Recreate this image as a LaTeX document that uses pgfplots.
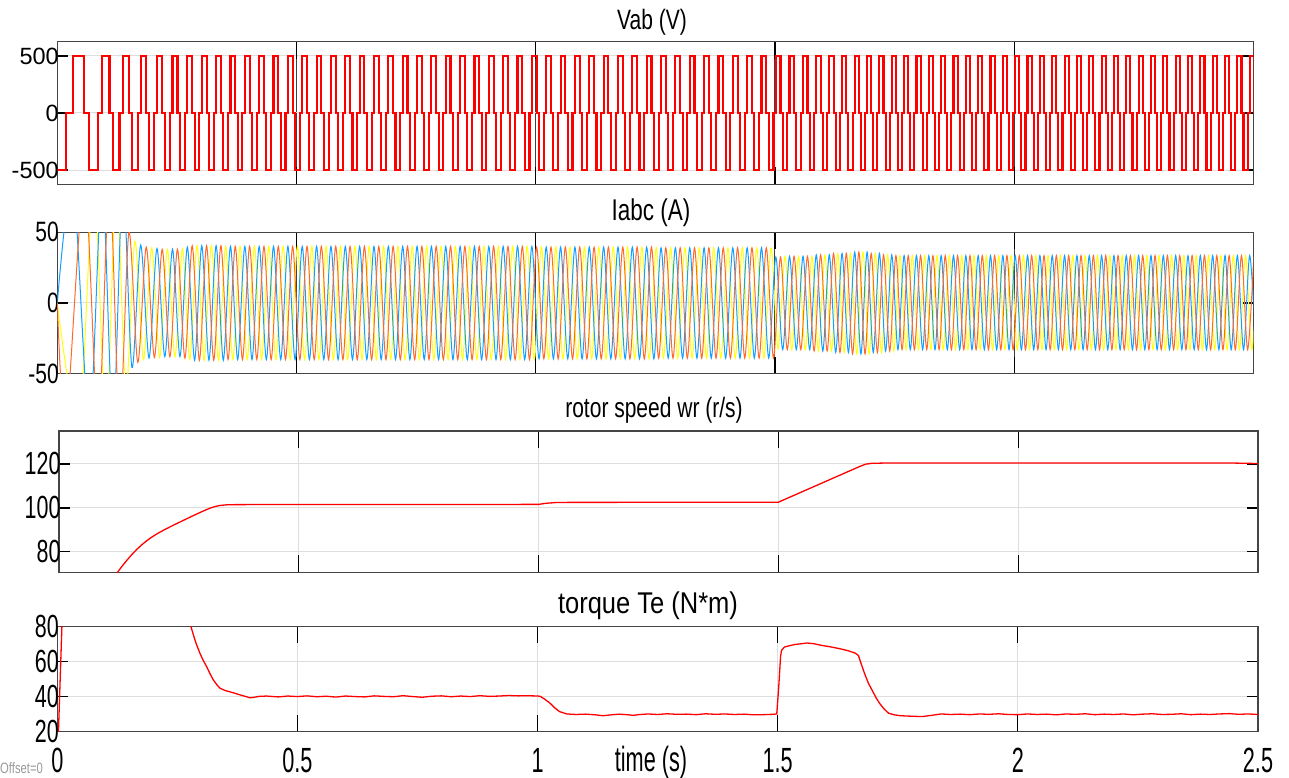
\documentclass[border=0pt]{standalone}
\usepackage{fontspec}
\setmainfont{Liberation Sans}
\newfontfamily\fA{Liberation Sans}
\newfontfamily\fB[FakeStretch=0.75]{Liberation Sans}
\newfontfamily\fE[FakeStretch=0.85]{Liberation Sans}
\newfontfamily\fC[FakeStretch=0.67]{Liberation Sans}
\newfontfamily\fD[FakeStretch=0.62]{Liberation Sans}
\usepackage{pgfplots}
\pgfplotsset{compat=1.18}
\definecolor{syel}{rgb}{1,1,0.067}
\definecolor{sblu}{rgb}{0.0745,0.6235,1}
\definecolor{sora}{rgb}{1,0.4118,0.1608}
\definecolor{axc}{rgb}{0.27,0.27,0.27}
\pgfplotsset{scope/.style={scale only axis, anchor=south west,
  xmin=0, xmax=2.5, xtick={0,0.5,1,1.5,2,2.5}, xticklabels={},
  grid=major, major grid style={line width=1pt, black!13},
  axis line style={axc, line width=1.4pt},
  tick style={black, line width=1.2pt}, tick align=inside,
  /pgf/number format/assume math mode=true,
  xtick style={/pgfplots/major tick length=17pt},
  ytick style={/pgfplots/major tick length=11pt},
  yticklabel style={xshift=5pt}}}
\begin{document}
\begin{tikzpicture}[x=1pt,y=1pt]
\useasboundingbox (0,0) rectangle (1289,778);
% ---------------- Vab ----------------
\begin{axis}[scope, at={(57.3pt,593.7pt)}, width=1196pt, height=142.6pt,
  ymin=-625, ymax=625, ytick={-500,0,500}, yticklabels={-500,0,500},
  major x grid style={line width=1pt, black!75},
  yticklabel style={font=\fA\fontsize{23.5}{23.5}\selectfont}]
\addplot[const plot, red, line width=2.1pt] coordinates {
(0,-500)(0.0181,0)(0.0327,500)(0.0566,0)(0.0669,-500)(0.0853,0)(0.0936,500)(0.1091,0)(0.1164,-500)(0.1301,0)(0.1368,500)(0.1497,0)(0.1560,-500)(0.1683,0)(0.1743,500)(0.1860,0)(0.1917,-500)(0.2029,0)(0.2084,500)(0.2193,0)(0.2247,-500)(0.2354,0)(0.2408,500)(0.2512,0)(0.2564,-500)(0.2668,0)(0.2719,500)(0.282,0)(0.287,-500)(0.297,0)
(0.302,500)(0.312,0)(0.317,-500)(0.327,0)(0.332,500)(0.342,0)(0.347,-500)(0.357,0)(0.362,500)(0.372,0)(0.377,-500)(0.387,0)(0.392,500)(0.402,0)(0.407,-500)(0.417,0)
(0.422,500)(0.432,0)(0.437,-500)(0.447,0)(0.452,500)(0.462,0)(0.467,-500)(0.477,0)(0.482,500)(0.492,0)(0.497,-500)(0.507,0)(0.512,500)(0.522,0)(0.527,-500)(0.537,0)
(0.542,500)(0.552,0)(0.557,-500)(0.567,0)(0.572,500)(0.582,0)(0.587,-500)(0.597,0)(0.602,500)(0.612,0)(0.617,-500)(0.627,0)(0.632,500)(0.642,0)(0.647,-500)(0.657,0)
(0.662,500)(0.672,0)(0.677,-500)(0.687,0)(0.692,500)(0.702,0)(0.707,-500)(0.717,0)(0.722,500)(0.732,0)(0.737,-500)(0.747,0)(0.752,500)(0.762,0)(0.767,-500)(0.777,0)
(0.782,500)(0.792,0)(0.797,-500)(0.807,0)(0.812,500)(0.822,0)(0.827,-500)(0.837,0)(0.842,500)(0.852,0)(0.857,-500)(0.867,0)(0.872,500)(0.882,0)(0.887,-500)(0.897,0)
(0.902,500)(0.912,0)(0.917,-500)(0.927,0)(0.932,500)(0.942,0)(0.947,-500)(0.957,0)(0.962,500)(0.972,0)(0.977,-500)(0.987,0)(0.992,500)(1.002,0)(1.007,-500)(1.017,0)
(1.022,500)(1.032,0)(1.037,-500)(1.047,0)(1.052,500)(1.062,0)(1.067,-500)(1.077,0)(1.082,500)(1.092,0)(1.097,-500)(1.107,0)(1.112,500)(1.122,0)(1.127,-500)(1.137,0)
(1.142,500)(1.152,0)(1.157,-500)(1.167,0)(1.172,500)(1.182,0)(1.187,-500)(1.197,0)(1.202,500)(1.212,0)(1.217,-500)(1.227,0)(1.232,500)(1.242,0)(1.247,-500)(1.257,0)
(1.262,500)(1.272,0)(1.277,-500)(1.287,0)(1.292,500)(1.302,0)(1.307,-500)(1.317,0)(1.322,500)(1.332,0)(1.337,-500)(1.347,0)(1.352,500)(1.362,0)(1.367,-500)(1.377,0)
(1.382,500)(1.392,0)(1.397,-500)(1.407,0)(1.412,500)(1.422,0)(1.427,-500)(1.437,0)(1.442,500)(1.452,0)(1.457,-500)(1.467,0)(1.472,500)(1.482,0)(1.487,-500)(1.497,0)
(1.5019,500)(1.5116,0)(1.5163,-500)(1.5259,0)(1.5306,500)(1.5401,0)(1.5448,-500)(1.5541,0)(1.5588,500)(1.5681,0)(1.5727,-500)(1.5819,0)(1.5865,500)(1.5956,0)(1.6001,-500)(1.6092,0)
(1.6137,500)(1.6226,0)(1.6271,-500)(1.6360,0)(1.6404,500)(1.6493,0)(1.6537,-500)(1.6624,0)(1.6668,500)(1.6755,0)(1.6798,-500)(1.6884,0)(1.6927,500)(1.7013,0)(1.7056,-500)(1.7142,0)
(1.7185,500)(1.7271,0)(1.7314,-500)(1.7400,0)(1.7443,500)(1.7529,0)(1.7572,-500)(1.7658,0)(1.7701,500)(1.7787,0)(1.7830,-500)(1.7916,0)(1.7959,500)(1.8045,0)(1.8088,-500)(1.8174,0)
(1.8217,500)(1.8303,0)(1.8346,-500)(1.8432,0)(1.8475,500)(1.8561,0)(1.8604,-500)(1.8690,0)(1.8733,500)(1.8819,0)(1.8862,-500)(1.8948,0)(1.8991,500)(1.9077,0)(1.9120,-500)(1.9206,0)
(1.9249,500)(1.9335,0)(1.9378,-500)(1.9464,0)(1.9507,500)(1.9593,0)(1.9636,-500)(1.9722,0)(1.9765,500)(1.9851,0)(1.9894,-500)(1.9980,0)(2.0023,500)(2.0109,0)(2.0152,-500)(2.0238,0)
(2.0281,500)(2.0367,0)(2.0410,-500)(2.0496,0)(2.0539,500)(2.0625,0)(2.0668,-500)(2.0754,0)(2.0797,500)(2.0883,0)(2.0926,-500)(2.1012,0)(2.1055,500)(2.1141,0)(2.1184,-500)(2.1270,0)
(2.1313,500)(2.1399,0)(2.1442,-500)(2.1528,0)(2.1571,500)(2.1657,0)(2.1700,-500)(2.1786,0)(2.1829,500)(2.1915,0)(2.1958,-500)(2.2044,0)(2.2087,500)(2.2173,0)(2.2216,-500)(2.2302,0)
(2.2345,500)(2.2431,0)(2.2474,-500)(2.2560,0)(2.2603,500)(2.2689,0)(2.2732,-500)(2.2818,0)(2.2861,500)(2.2947,0)(2.2990,-500)(2.3076,0)(2.3119,500)(2.3205,0)(2.3248,-500)(2.3334,0)
(2.3377,500)(2.3463,0)(2.3506,-500)(2.3592,0)(2.3635,500)(2.3721,0)(2.3764,-500)(2.3850,0)(2.3893,500)(2.3979,0)(2.4022,-500)(2.4108,0)(2.4151,500)(2.4237,0)(2.4280,-500)(2.4366,0)
(2.4409,500)(2.4495,0)(2.4538,-500)(2.4624,0)(2.4667,500)(2.4753,0)(2.4796,-500)(2.4882,0)(2.4925,500)(2.5011,0)(2.5054,-500)(2.52,0)};
\end{axis}
% ---------------- Iabc ----------------
\begin{axis}[scope, at={(57.3pt,404.3pt)}, width=1196pt, height=141.4pt,
  ymin=-50, ymax=50, ytick={-50,0,50}, yticklabels={-50,0,50},
  major x grid style={line width=1pt, black!75},
  yticklabel style={font=\fB\fontsize{28}{28}\selectfont}]
\addplot[smooth, syel, line width=1pt] coordinates {
(0,0)(0.0454,-85)(0.0764,85)(0.1016,-85)(0.1233,85)(0.1433,-62)(0.1622,43.5)(0.1802,-40)(0.1973,39)(0.2139,-38.5)(0.2301,38)(0.2460,-38)(0.2616,38.5)(0.2770,-40)
(0.292,40.5)(0.307,-40.5)(0.322,40.5)(0.337,-40.5)(0.352,40)(0.367,-40)(0.382,40)(0.397,-40)(0.412,40)(0.427,-40)(0.442,40)(0.457,-40)(0.472,40)(0.487,-40)(0.502,40)(0.517,-40)
(0.532,40)(0.547,-40)(0.562,40)(0.577,-40)(0.592,40)(0.607,-40)(0.622,40)(0.637,-40)(0.652,40)(0.667,-40)(0.682,40)(0.697,-40)(0.712,40)(0.727,-40)(0.742,40)(0.757,-40)
(0.772,40)(0.787,-40)(0.802,40)(0.817,-40)(0.832,40)(0.847,-40)(0.862,40)(0.877,-40)(0.892,40)(0.907,-40)(0.922,40)(0.937,-40)(0.952,40)(0.967,-40)(0.982,40)(0.997,-40)
(1.012,39.5)(1.027,-39.5)(1.042,39.5)(1.057,-39.5)(1.072,39.5)(1.087,-39.5)(1.102,39.5)(1.117,-39.5)(1.132,39.5)(1.147,-39.5)(1.162,39.5)(1.177,-39.5)(1.192,39.5)(1.207,-39.5)(1.222,39.5)(1.237,-39.5)
(1.252,39)(1.267,-39)(1.282,39)(1.297,-39)(1.312,39)(1.327,-39)(1.342,39)(1.357,-39)(1.372,39)(1.387,-39)(1.402,39)(1.417,-39)(1.432,39)(1.447,-39)(1.462,39)(1.477,-39)(1.492,39)
(1.5067,-32.5)(1.5211,33)(1.5353,-33)(1.5494,33)(1.5634,-33)(1.5773,33)(1.5910,-34)(1.6046,34)(1.6182,-34)(1.6316,35)(1.6449,-35)(1.6580,35)(1.6711,-36)(1.6841,36)(1.6970,-36)
(1.7099,35)(1.7228,-35)(1.7357,34)(1.7486,-34)(1.7615,33.5)(1.7744,-33)(1.7873,33.5)(1.8002,-33)(1.8131,33.5)(1.8260,-33)(1.8389,33.5)(1.8518,-33)(1.8647,33.5)(1.8776,-33)(1.8905,33.5)(1.9034,-33)
(1.9163,33.5)(1.9292,-33)(1.9421,33.5)(1.9550,-33)(1.9679,33.5)(1.9808,-33)(1.9937,33.5)(2.0066,-33)(2.0195,33.5)(2.0324,-33)(2.0453,33.5)(2.0582,-33)(2.0711,33.5)(2.0840,-33)(2.0969,33.5)(2.1098,-33)
(2.1227,33.5)(2.1356,-33)(2.1485,33.5)(2.1614,-33)(2.1743,33.5)(2.1872,-33)(2.2001,33.5)(2.2130,-33)(2.2259,33.5)(2.2388,-33)(2.2517,33.5)(2.2646,-33)(2.2775,33.5)(2.2904,-33)(2.3033,33.5)(2.3162,-33)
(2.3291,33.5)(2.3420,-33)(2.3549,33.5)(2.3678,-33)(2.3807,33.5)(2.3936,-33)(2.4065,33.5)(2.4194,-33)(2.4323,33.5)(2.4452,-33)(2.4581,33.5)(2.4710,-33)(2.4839,33.5)(2.4968,-33)(2.5097,33.5)};
\addplot[smooth, sblu, line width=1pt] coordinates {
(0,0)(0.0327,85)(0.0669,-85)(0.0936,85)(0.1164,-85)(0.1368,85)(0.1560,-45.5)(0.1743,41)(0.1917,-39)(0.2084,38.5)(0.2247,-38)(0.2408,38)(0.2564,-38)(0.2719,39.5)
(0.287,-40.5)(0.302,40.5)(0.317,-40.5)(0.332,40.5)(0.347,-40.5)(0.362,40)(0.377,-40)(0.392,40)(0.407,-40)(0.422,40)(0.437,-40)(0.452,40)(0.467,-40)(0.482,40)(0.497,-40)(0.512,40)
(0.527,-40)(0.542,40)(0.557,-40)(0.572,40)(0.587,-40)(0.602,40)(0.617,-40)(0.632,40)(0.647,-40)(0.662,40)(0.677,-40)(0.692,40)(0.707,-40)(0.722,40)(0.737,-40)(0.752,40)
(0.767,-40)(0.782,40)(0.797,-40)(0.812,40)(0.827,-40)(0.842,40)(0.857,-40)(0.872,40)(0.887,-40)(0.902,40)(0.917,-40)(0.932,40)(0.947,-40)(0.962,40)(0.977,-40)(0.992,40)
(1.007,-39.5)(1.022,39.5)(1.037,-39.5)(1.052,39.5)(1.067,-39.5)(1.082,39.5)(1.097,-39.5)(1.112,39.5)(1.127,-39.5)(1.142,39.5)(1.157,-39.5)(1.172,39.5)(1.187,-39.5)(1.202,39.5)(1.217,-39.5)(1.232,39.5)(1.247,-39.5)
(1.262,39)(1.277,-39)(1.292,39)(1.307,-39)(1.322,39)(1.337,-39)(1.352,39)(1.367,-39)(1.382,39)(1.397,-39)(1.412,39)(1.427,-39)(1.442,39)(1.457,-39)(1.472,39)(1.487,-39)
(1.5019,32.5)(1.5163,-33)(1.5306,33)(1.5448,-33)(1.5588,33)(1.5727,-33)(1.5865,34)(1.6001,-34)(1.6137,34)(1.6271,-35)(1.6404,35)(1.6537,-35)(1.6668,36)(1.6798,-36)(1.6927,36)
(1.7056,-35)(1.7185,35)(1.7314,-34)(1.7443,34)(1.7572,-33)(1.7701,33.5)(1.7830,-33)(1.7959,33.5)(1.8088,-33)(1.8217,33.5)(1.8346,-33)(1.8475,33.5)(1.8604,-33)(1.8733,33.5)(1.8862,-33)(1.8991,33.5)
(1.9120,-33)(1.9249,33.5)(1.9378,-33)(1.9507,33.5)(1.9636,-33)(1.9765,33.5)(1.9894,-33)(2.0023,33.5)(2.0152,-33)(2.0281,33.5)(2.0410,-33)(2.0539,33.5)(2.0668,-33)(2.0797,33.5)(2.0926,-33)(2.1055,33.5)
(2.1184,-33)(2.1313,33.5)(2.1442,-33)(2.1571,33.5)(2.1700,-33)(2.1829,33.5)(2.1958,-33)(2.2087,33.5)(2.2216,-33)(2.2345,33.5)(2.2474,-33)(2.2603,33.5)(2.2732,-33)(2.2861,33.5)(2.2990,-33)(2.3119,33.5)
(2.3248,-33)(2.3377,33.5)(2.3506,-33)(2.3635,33.5)(2.3764,-33)(2.3893,33.5)(2.4022,-33)(2.4151,33.5)(2.4280,-33)(2.4409,33.5)(2.4538,-33)(2.4667,33.5)(2.4796,-33)(2.4925,33.5)(2.5054,-33)};
\addplot[smooth, sora, line width=1pt] coordinates {
(0,0)(0.0181,-85)(0.0566,85)(0.0853,-85)(0.1091,85)(0.1301,-85)(0.1497,50)(0.1683,-42)(0.1860,39.5)(0.2029,-38.5)(0.2193,38)(0.2354,-38)(0.2512,38)(0.2668,-39)
(0.282,40.5)(0.297,-40.5)(0.312,40.5)(0.327,-40.5)(0.342,40.5)(0.357,-40)(0.372,40)(0.387,-40)(0.402,40)(0.417,-40)(0.432,40)(0.447,-40)(0.462,40)(0.477,-40)(0.492,40)(0.507,-40)
(0.522,40)(0.537,-40)(0.552,40)(0.567,-40)(0.582,40)(0.597,-40)(0.612,40)(0.627,-40)(0.642,40)(0.657,-40)(0.672,40)(0.687,-40)(0.702,40)(0.717,-40)(0.732,40)(0.747,-40)
(0.762,40)(0.777,-40)(0.792,40)(0.807,-40)(0.822,40)(0.837,-40)(0.852,40)(0.867,-40)(0.882,40)(0.897,-40)(0.912,40)(0.927,-40)(0.942,40)(0.957,-40)(0.972,40)(0.987,-40)
(1.002,39.5)(1.017,-39.5)(1.032,39.5)(1.047,-39.5)(1.062,39.5)(1.077,-39.5)(1.092,39.5)(1.107,-39.5)(1.122,39.5)(1.137,-39.5)(1.152,39.5)(1.167,-39.5)(1.182,39.5)(1.197,-39.5)(1.212,39.5)(1.227,-39.5)(1.242,39.5)
(1.257,-39)(1.272,39)(1.287,-39)(1.302,39)(1.317,-39)(1.332,39)(1.347,-39)(1.362,39)(1.377,-39)(1.392,39)(1.407,-39)(1.422,39)(1.437,-39)(1.452,39)(1.467,-39)(1.482,39)(1.497,-39)
(1.5116,32.5)(1.5259,-33)(1.5401,33)(1.5541,-33)(1.5681,33)(1.5819,-34)(1.5956,34)(1.6092,-34)(1.6226,35)(1.6360,-35)(1.6493,35)(1.6624,-36)(1.6755,36)(1.6884,-36)
(1.7013,35)(1.7142,-35)(1.7271,34)(1.7400,-34)(1.7529,33.5)(1.7658,-33)(1.7787,33.5)(1.7916,-33)(1.8045,33.5)(1.8174,-33)(1.8303,33.5)(1.8432,-33)(1.8561,33.5)(1.8690,-33)(1.8819,33.5)(1.8948,-33)
(1.9077,33.5)(1.9206,-33)(1.9335,33.5)(1.9464,-33)(1.9593,33.5)(1.9722,-33)(1.9851,33.5)(1.9980,-33)(2.0109,33.5)(2.0238,-33)(2.0367,33.5)(2.0496,-33)(2.0625,33.5)(2.0754,-33)(2.0883,33.5)(2.1012,-33)
(2.1141,33.5)(2.1270,-33)(2.1399,33.5)(2.1528,-33)(2.1657,33.5)(2.1786,-33)(2.1915,33.5)(2.2044,-33)(2.2173,33.5)(2.2302,-33)(2.2431,33.5)(2.2560,-33)(2.2689,33.5)(2.2818,-33)(2.2947,33.5)(2.3076,-33)
(2.3205,33.5)(2.3334,-33)(2.3463,33.5)(2.3592,-33)(2.3721,33.5)(2.3850,-33)(2.3979,33.5)(2.4108,-33)(2.4237,33.5)(2.4366,-33)(2.4495,33.5)(2.4624,-33)(2.4753,33.5)(2.4882,-33)(2.5011,33.5)};
\end{axis}
% ---------------- speed ----------------
\begin{axis}[scope, at={(59pt,205.7pt)}, width=1199pt, height=141.3pt,
  ymin=70.7, ymax=135, ytick={80,100,120}, yticklabels={80,100,120},
  yticklabel style={font=\fC\fontsize{32}{32}\selectfont}]
\addplot[red, line width=1.3pt] coordinates {
(0,0)(0.05,38)(0.1,64)(0.122,70.7)(0.132,73.6)(0.142,76.3)(0.152,78.8)(0.162,81.1)(0.172,83.1)(0.182,84.9)(0.192,86.5)(0.205,88.3)(0.22,90.1)(0.24,92.3)(0.26,94.4)(0.28,96.5)(0.30,98.5)(0.315,99.9)(0.325,100.6)(0.335,101.1)(0.35,101.4)(0.37,101.5)(1.0,101.6)(1.015,102.1)(1.04,102.5)(1.5,102.6)(1.67,118.9)(1.682,119.9)(1.695,120.3)(1.72,120.4)(2.45,120.4)(2.5,120.2)};
\end{axis}
% ---------------- torque ----------------
\begin{axis}[scope, at={(57.3pt,46.3pt)}, width=1200.7pt, height=105.4pt,
  ymin=20, ymax=80, ytick={20,40,60,80}, yticklabels={20,40,60,80},
  xticklabels={0,0.5,1,1.5,2,2.5},
  yticklabel style={font=\fC\fontsize{32}{32}\selectfont},
  xticklabel style={font=\fD\fontsize{35}{35}\selectfont, yshift=-13pt}]
\addplot[red, line width=1.3pt] coordinates {
(0,0)(0.012,100)(0.03,140)(0.25,120)(0.27,92)(0.278,80)(0.288,71)(0.297,64.6)(0.304,60.5)(0.311,57)(0.318,53)(0.325,49.4)(0.332,46.8)(0.339,44.7)(0.35,43.4)(0.366,42.2)(0.38,41)(0.394,39.9)(0.401,39.3)(0.41,39.6)(0.42,40.1)(0.436,40.3)
(0.44,40.2)(0.46,39.8)(0.48,40.3)(0.50,40.0)(0.52,40.4)(0.54,39.9)(0.56,40.2)(0.58,39.7)(0.60,40.3)(0.62,40.0)(0.64,39.8)(0.66,40.4)(0.68,40.1)(0.70,39.9)(0.72,40.5)(0.74,40.0)(0.76,39.6)(0.78,40.2)(0.80,40.4)(0.82,39.9)(0.84,40.3)(0.86,40.0)(0.88,40.5)(0.90,40.1)(0.92,40.3)(0.94,40.6)(0.96,40.4)(0.98,40.5)(1.0,40.3)
(1.005,40.2)(1.015,38.5)(1.026,36.2)(1.036,33.5)(1.046,31.4)(1.061,30.1)(1.08,29.8)(1.10,30.0)(1.12,29.6)(1.136,29.1)(1.15,29.5)(1.17,30.0)(1.19,29.6)(1.199,29.3)(1.21,29.7)(1.23,30.1)(1.25,29.8)(1.27,30.2)(1.29,29.9)(1.31,30.0)(1.33,29.7)(1.35,30.2)(1.37,29.9)(1.39,30.1)(1.41,29.8)(1.43,30.0)(1.45,29.6)(1.47,29.7)(1.49,29.9)(1.498,30.1)
(1.502,45)(1.506,63)(1.508,66.3)(1.514,68.2)(1.525,69.0)(1.537,69.7)(1.55,70.1)(1.561,70.5)(1.575,70.1)(1.592,69.1)(1.61,68.3)(1.63,67.2)(1.645,66.2)(1.661,64.8)(1.668,63.4)(1.674,58.5)(1.681,53)(1.689,47.5)(1.697,43.4)(1.705,39.2)(1.713,35.8)(1.722,32.8)(1.731,30.5)(1.743,29.6)(1.755,29.1)(1.78,28.8)(1.801,28.6)(1.82,29.3)
(1.84,30.1)(1.86,29.8)(1.88,30.0)(1.90,29.7)(1.92,30.1)(1.94,29.9)(1.96,30.2)(1.98,29.8)(2.0,29.7)(2.02,30.1)(2.04,29.8)(2.06,30.0)(2.08,29.6)(2.10,30.1)(2.12,29.9)(2.14,30.2)(2.16,29.7)(2.18,30.0)(2.20,29.8)(2.22,30.1)(2.24,29.6)(2.26,30.0)(2.28,30.2)(2.30,29.8)(2.32,29.9)(2.34,30.2)(2.36,29.7)(2.38,30.0)(2.40,29.8)(2.42,30.1)(2.44,30.3)(2.46,29.9)(2.48,30.1)(2.5,29.8)};
\end{axis}
% ---------------- titles ----------------
\node[font=\fB\fontsize{28}{28}\selectfont] at (652,756) {Vab (V)};
\node[font=\fB\fontsize{30}{30}\selectfont] at (651,565) {Iabc (A)};
\node[font=\fB\fontsize{28}{28}\selectfont] at (654,368) {rotor speed wr (r/s)};
\node[font=\fE\fontsize{30}{30}\selectfont] at (648,172) {torque Te (N*m)};
\node[font=\fD\fontsize{35}{35}\selectfont] at (651,16) {time (s)};
\node[font=\fB\fontsize{15}{15}\selectfont, text=black!40, anchor=west, inner sep=0pt] at (0,10) {Offset=0};
\end{tikzpicture}
\end{document}
